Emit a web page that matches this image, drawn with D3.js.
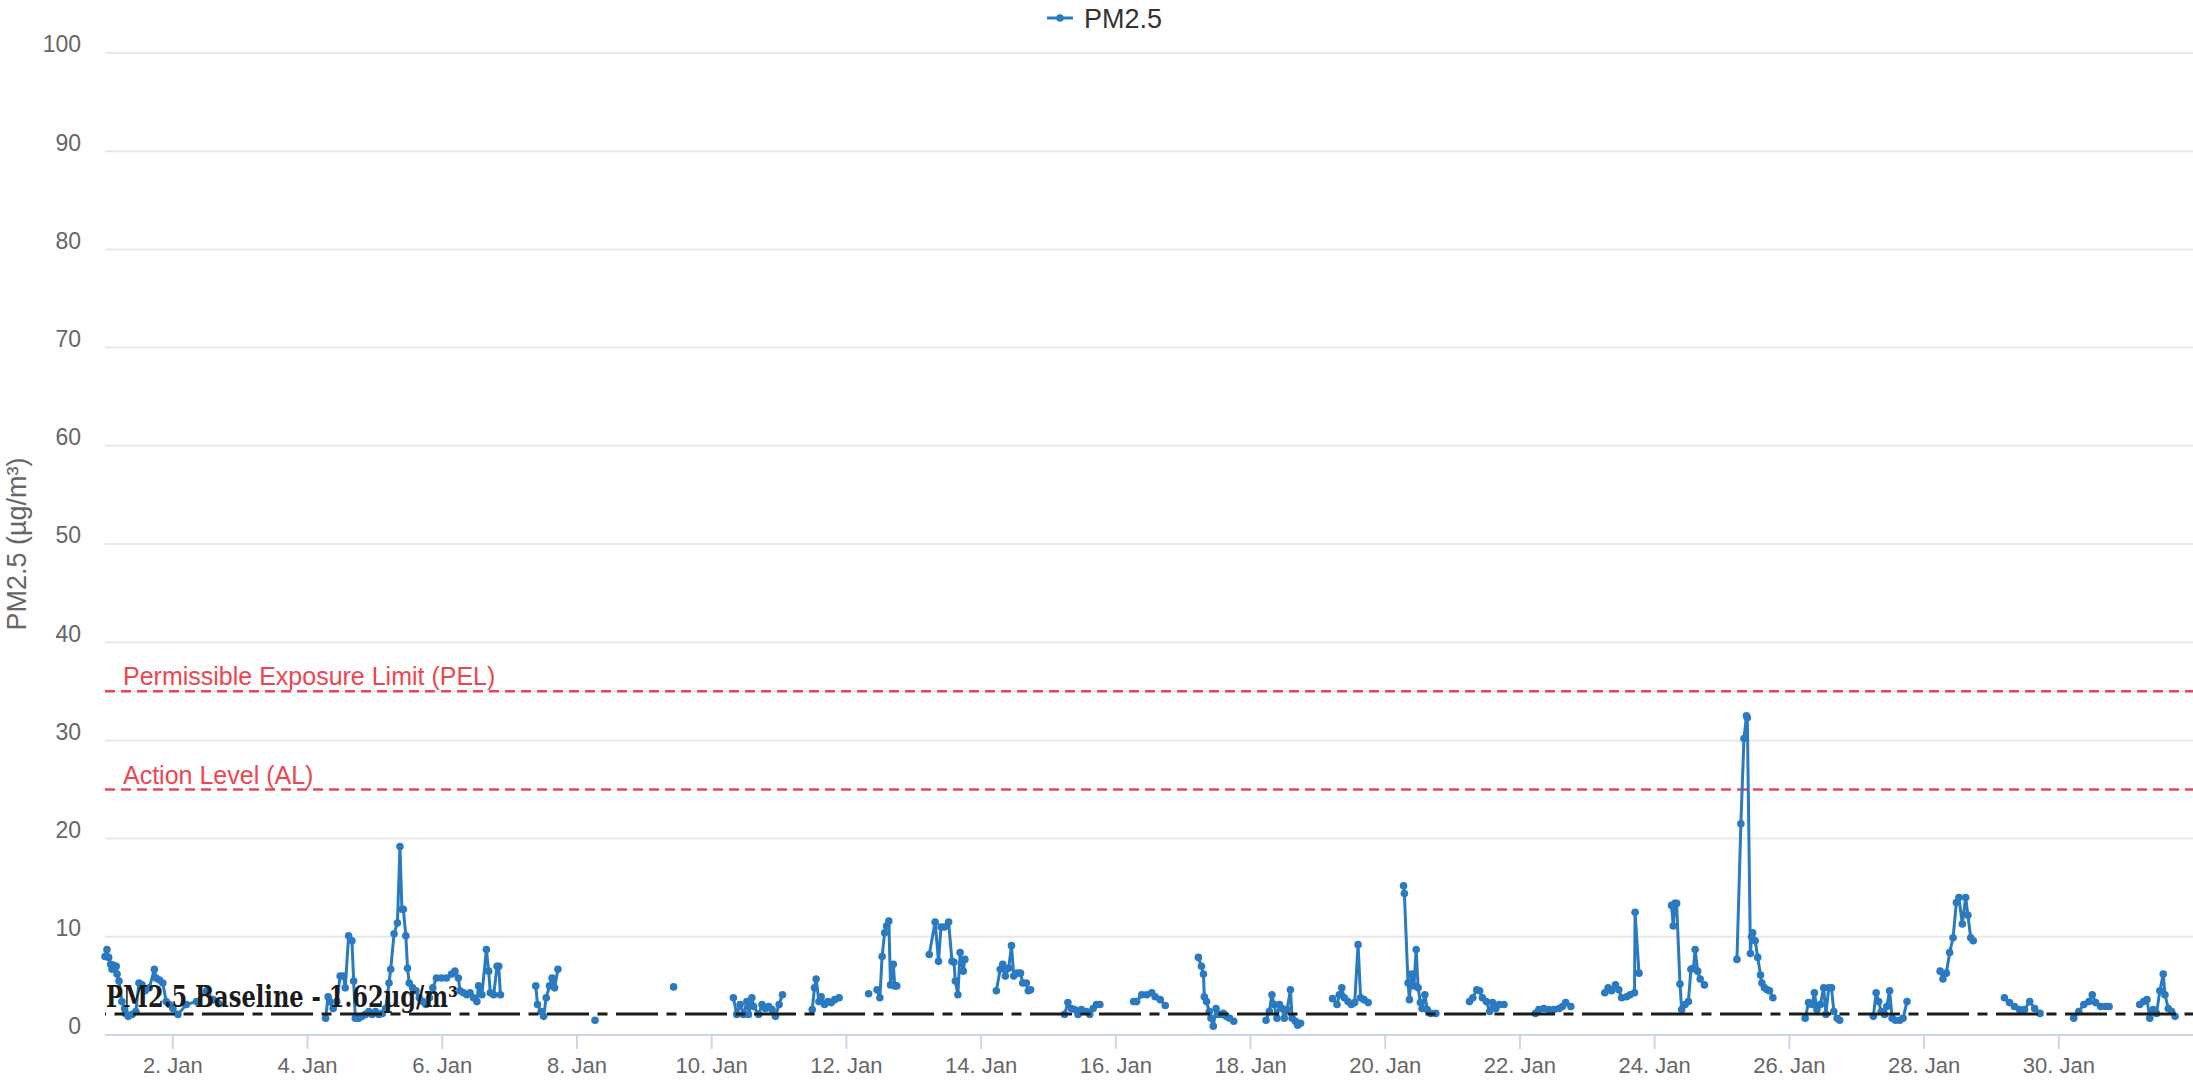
<!DOCTYPE html>
<html><head><meta charset="utf-8">
<script src="https://cdn.jsdelivr.net/npm/d3@7/dist/d3.min.js"></script>
<style>html,body{margin:0;padding:0;background:#fff;overflow:hidden}</style>
</head><body>
<svg id="chart" width="2193" height="1080"></svg>
<script>
// ---------------- data ----------------
const seriesName = "PM2.5";
const yAxisTitle = "PM2.5 (µg/m³)";
const yTickValues = [0, 10, 20, 30, 40, 50, 60, 70, 80, 90, 100];
const xTickDays = [2, 4, 6, 8, 10, 12, 14, 16, 18, 20, 22, 24, 26, 28, 30];
const limitLabels = ["Permissible Exposure Limit (PEL)", "Action Level (AL)"];
const limitValues = [35, 25];
const baselineValue = 1.62;
const baselineLabel = "PM2.5 Baseline - 1.62µg/m³";

// [hours since 1 Jan 00:00, PM2.5 µg/m³]; each array is one unbroken run of readings
const seg01 = [[0,8.0],[0.7,8.7],[1.3,7.9],[2,7.2],[2.5,6.7],[3,7.1],[4,7.0],[4.3,6.2],[5,5.5],[6,3.4],[7,2.7],[7.3,2.2],[8.3,1.9],[9.7,2.1],[11,2.4],[12.1,5.3],[13.2,5.1],[14.3,4.5],[15.8,4.8],[17.6,6.7],[18.2,5.8],[19.4,5.6],[20.6,5.3],[21.8,3.4],[23,3.1],[24.2,2.7],[26,2.1],[29,3.1],[32.6,3.4],[36.2,4.5],[38.5,3.6],[40.5,3.2]];
const seg02 = [[78.6,1.7],[79.5,3.9],[80.1,3.4],[81.3,2.7],[82.6,3.4],[83.8,6.0],[85.0,6.0],[85.6,4.8],[86.8,10.1],[88.0,9.6],[88.6,5.5],[89.2,1.7],[90.4,1.7],[91.6,1.9],[92.8,2.1],[94.0,2.4],[95.2,2.1],[96.4,2.4],[97.6,2.1],[98.8,2.2],[100.0,2.7],[101.2,5.3],[101.8,6.7],[103.0,10.3],[104.2,11.4],[105.1,19.2],[105.8,12.8],[106.3,12.8],[107.2,10.1],[107.8,6.8],[108.4,5.3],[109.6,4.8],[110.8,4.5],[112.0,3.8],[113.2,3.4],[114.4,3.1],[115.6,3.8],[116.8,4.8],[118.1,5.8],[119.9,5.8],[121.7,5.8],[123.5,6.2],[124.7,6.5],[125.9,5.8],[126.5,4.5],[127.7,4.3],[128.9,4.1],[130.1,4.3],[131.3,3.8],[132.5,3.4],[133.1,5.0],[134.3,4.1],[135.9,8.7],[136.7,6.5],[137.3,4.3],[138.5,4.1],[139.7,7.0],[140.3,7.0],[140.9,4.1]];
const seg03 = [[153.5,5.0],[154.1,3.1],[155.4,2.4],[156.3,1.9],[157.2,3.8],[158.4,5.0],[159.3,5.8],[160.2,4.8],[161.4,6.7]];
const seg04 = [[174.6,1.5]];
const seg05 = [[202.6,4.9]];
const seg06 = [[223.9,3.8],[225.1,2.1],[226.3,3.1],[227.5,2.1],[228.7,3.4],[229.3,2.1],[230.5,3.8],[231.1,2.9],[232.9,2.1],[234.1,3.1],[235.3,2.7],[236.5,2.9],[237.7,2.6],[238.9,1.9],[240.2,3.1],[241.4,4.1]];
const seg07 = [[252.0,2.6],[252.8,4.8],[253.4,5.7],[254.4,3.4],[255.2,3.9],[256.4,3.1],[257.6,3.4],[258.8,3.3],[260.0,3.6],[261.6,3.8]];
const seg08 = [[272.1,4.2]];
const seg09 = [[275.1,4.6],[276.1,3.8],[276.9,8.0],[277.8,10.4],[278.5,11.1],[279.3,11.6],[279.9,5.1],[280.9,7.2],[281.4,5.0],[282.1,5.0]];
const seg10 = [[293.7,8.2],[295.8,11.5],[297.0,7.5],[297.9,11.0],[299.1,11.0],[300.6,11.5],[301.8,7.5],[302.5,7.4],[303.0,5.5],[303.9,4.1],[304.7,8.4],[305.8,6.5],[306.4,7.7]];
const seg11 = [[317.6,4.5],[319.0,6.7],[319.9,7.2],[320.8,6.0],[322.0,6.8],[323.0,9.1],[323.8,6.0],[325.0,6.3],[326.2,6.3],[327.0,5.3],[328.3,5.3],[329.0,4.5],[329.8,4.6]];
const seg12 = [[341.9,2.1],[343.1,3.3],[344.3,2.7],[345.5,2.6],[346.7,2.1],[347.9,2.6],[349.7,2.4],[350.9,2.1],[352.1,2.7],[353.3,3.1],[354.5,3.1]];
const seg13 = [[366.5,3.4],[367.6,3.4],[369.4,4.1],[371.2,4.1],[373.0,4.3],[374.2,3.9],[376.0,3.6],[377.8,3.0]];
const seg14 = [[389.6,7.9],[390.7,7.0],[391.4,6.2],[391.7,3.9],[392.5,3.4],[393.5,2.4],[394.1,1.7],[394.9,0.9],[395.9,2.7],[396.5,2.1],[397.7,2.1],[398.5,2.2],[399.5,1.9],[400.7,1.7],[402.2,1.4]];
const seg15 = [[413.7,1.5],[414.9,2.4],[415.8,4.1],[416.6,3.1],[417.6,1.7],[418.5,3.1],[419.4,2.7],[420.2,1.7],[421.2,2.6],[422.4,4.6],[423.0,1.7],[424.2,1.4],[425.0,1.0],[426.0,1.2]];
const seg16 = [[437.4,3.7],[439.0,3.1],[439.8,4.1],[440.7,4.8],[441.6,3.8],[442.9,3.4],[444.1,3.1],[445.3,3.3],[446.5,9.2],[447.4,3.8],[448.6,3.6],[450.1,3.3]];
const seg17 = [[462.7,15.2],[463.0,14.4],[464.3,5.3],[464.8,3.6],[465.5,6.2],[466.4,5.0],[467.2,8.7],[467.9,4.8],[468.7,3.3],[469.3,2.7],[470.3,4.1],[471.1,2.6],[472.4,2.2],[474.2,2.2]];
const seg18 = [[486.2,3.4],[487.4,3.8],[488.8,4.6],[489.8,4.5],[490.8,3.8],[492.2,3.4],[493.4,2.4],[494.4,3.3],[495.6,2.7],[496.8,3.1],[498.5,3.1]];
const seg19 = [[509.7,2.2],[510.9,2.6],[512.7,2.7],[514.5,2.6],[516.3,2.6],[518.1,2.7],[519.3,2.9],[520.5,3.3],[522.3,2.9]];
const seg20 = [[534.4,4.3],[535.6,4.8],[536.8,4.5],[538.2,5.1],[539.4,4.6],[540.4,3.8],[542.2,3.9],[543.4,4.1],[545.0,4.3],[545.2,12.5],[546.6,6.3]];
const seg21 = [[558.2,13.2],[558.8,11.1],[559.4,13.4],[560.0,13.4],[561.2,5.2],[561.8,2.6],[563.0,3.1],[564.2,3.4],[565.1,6.7],[566.0,6.8],[566.6,8.7],[567.5,6.5],[568.4,5.7],[569.9,5.1]];
const seg22 = [[581.5,7.7],[582.9,21.5],[584.0,30.2],[584.9,32.5],[585.2,32.3],[586.3,8.3],[586.7,10.0],[587.1,10.4],[588.0,9.6],[588.9,7.9],[589.9,6.1],[590.4,5.3],[591.3,4.8],[592.3,4.6],[593.1,4.5],[594.3,3.8]];
const seg23 = [[605.8,1.7],[607.0,3.3],[608.2,3.1],[609.1,4.3],[610.0,2.6],[611.2,3.1],[612.4,4.8],[613.2,2.1],[614.2,4.8],[615.2,4.8],[616.0,2.4],[617.2,1.7],[618.1,1.5]];
const seg24 = [[630.1,1.9],[631.1,4.3],[632.0,3.4],[632.9,2.4],[634.1,2.1],[634.9,2.9],[635.9,4.5],[636.8,1.7],[638.0,1.5],[639.5,1.5],[640.7,1.7],[642.1,3.4]];
const seg25 = [[653.9,6.5],[654.9,5.7],[656.1,6.3],[657.3,8.4],[658.5,9.9],[659.7,13.5],[660.6,14.0],[661.8,11.3],[663.0,14.0],[663.8,12.2],[664.8,9.9],[665.7,9.6]];
const seg26 = [[676.8,3.8],[678.6,3.3],[680.4,2.9],[682.2,2.6],[684.0,2.6],[685.8,3.4],[687.6,2.7],[689.5,2.2]];
const seg27 = [[701.5,1.7],[703.3,2.4],[705.1,3.1],[706.9,3.4],[708.1,4.1],[709.3,3.3],[711.1,2.9],[712.9,2.9],[714.1,2.9]];
const seg28 = [[725.0,3.1],[726.4,3.4],[727.6,3.6],[728.6,1.7],[729.8,2.6],[731.0,2.2],[732.2,4.5],[733.4,6.2],[734.0,4.1],[735.2,2.7],[736.4,2.4],[737.6,1.9]];
const segments = [seg01,seg02,seg03,seg04,seg05,seg06,seg07,seg08,seg09,seg10,seg11,seg12,seg13,seg14,seg15,seg16,seg17,seg18,seg19,seg20,seg21,seg22,seg23,seg24,seg25,seg26,seg27,seg28];

// ---------------- layout ----------------
const plot = {left: 105, right: 2193, top: 53, bottom: 1035};
const t0 = Date.UTC(2024, 0, 1);
const toDate = h => new Date(t0 + h * 3600e3);

const x = d3.scaleUtc().domain([new Date(t0), new Date(Date.UTC(2024, 1, 1))]).range([plot.left, plot.right]);
const y = d3.scaleLinear().domain([0, 100]).range([plot.bottom, plot.top]);

const svg = d3.select("#chart");
const sans = "'Liberation Sans', Arial, sans-serif";
const blue = "#2a7ac1";
const red = "#ee4550";

// gridlines
svg.append("g").selectAll("line").data(yTickValues.filter(v => v > 0)).join("line")
  .attr("x1", plot.left).attr("x2", plot.right)
  .attr("y1", d => y(d)).attr("y2", d => y(d))
  .attr("stroke", "#e8e8e8").attr("stroke-width", 2);

// y axis labels
const yAxis = d3.axisLeft(y).tickValues(yTickValues).tickSize(0).tickPadding(0);
const gy = svg.append("g").attr("transform", `translate(${plot.left - 24},0)`).call(yAxis);
gy.select(".domain").remove();
gy.selectAll("text").attr("font-family", "'Liberation Sans Narrow', 'Liberation Sans', Arial, sans-serif")
  .attr("font-size", 23).attr("fill", "#666").attr("dy", "-0.05em");

// x axis
const xTicks = xTickDays.map(d => new Date(Date.UTC(2024, 0, d)));
const xAxis = d3.axisBottom(x).tickValues(xTicks).tickFormat(d3.utcFormat("%-d. %b")).tickSize(14).tickPadding(8);
const gx = svg.append("g").attr("transform", `translate(0,${plot.bottom})`).call(xAxis);
gx.select(".domain").attr("stroke", "#ccd6eb").attr("stroke-width", 2).attr("d", `M${plot.left},0H${plot.right}`);
gx.selectAll(".tick line").attr("stroke", "#ccd6eb").attr("stroke-width", 2);
gx.selectAll(".tick text").attr("font-family", sans).attr("font-size", 22).attr("fill", "#666");

// y axis title
svg.append("text").attr("transform", `translate(26,${(plot.top + plot.bottom) / 2}) rotate(-90)`)
  .attr("text-anchor", "middle").attr("font-family", sans).attr("font-size", 27).attr("fill", "#666")
  .text(yAxisTitle);

// limit lines
limitValues.forEach((v, i) => {
  svg.append("line").attr("x1", plot.left).attr("x2", plot.right).attr("y1", y(v)).attr("y2", y(v))
    .attr("stroke", red).attr("stroke-width", 2.5).attr("stroke-dasharray", "10,6");
  svg.append("text").attr("x", plot.left + 18).attr("y", y(v) - 6)
    .attr("font-family", sans).attr("font-size", 25).attr("fill", red).text(limitLabels[i]);
});

// series
const line = d3.line().x(d => x(toDate(d[0]))).y(d => y(d[1]));
const gs = svg.append("g");
gs.selectAll("path").data(segments).join("path")
  .attr("d", line).attr("fill", "none").attr("stroke", blue).attr("stroke-width", 3)
  .attr("stroke-linejoin", "round").attr("stroke-linecap", "round");
gs.selectAll("circle").data(segments.flat()).join("circle")
  .attr("cx", d => x(toDate(d[0]))).attr("cy", d => y(d[1])).attr("r", 3.8).attr("fill", blue);

// baseline annotation (overlay drawn slightly above its value, as in the source)
const baseY = y(baselineValue) - 5;
svg.append("line").attr("x1", plot.left).attr("x2", plot.right)
  .attr("y1", baseY).attr("y2", baseY)
  .attr("stroke", "#1b1b1b").attr("stroke-width", 3)
  .attr("stroke-dasharray", "42,8.5,10,8.5").attr("stroke-dashoffset", 41);
svg.append("text").attr("x", plot.left + 1).attr("y", baseY - 7)
  .attr("font-family", "'DejaVu Serif', serif").attr("font-weight", "bold").attr("font-size", 29)
  .attr("fill", "#1b1b1b").attr("textLength", 352).attr("lengthAdjust", "spacingAndGlyphs")
  .text(baselineLabel);

// legend
const lg = svg.append("g").attr("transform", "translate(1047,18)");
lg.append("line").attr("x1", 0).attr("x2", 26).attr("stroke", blue).attr("stroke-width", 3);
lg.append("circle").attr("cx", 13).attr("r", 3.8).attr("fill", blue);
lg.append("text").attr("x", 37).attr("y", 10).attr("font-family", sans).attr("font-size", 27)
  .attr("fill", "#333").text(seriesName);
</script>
</body></html>
